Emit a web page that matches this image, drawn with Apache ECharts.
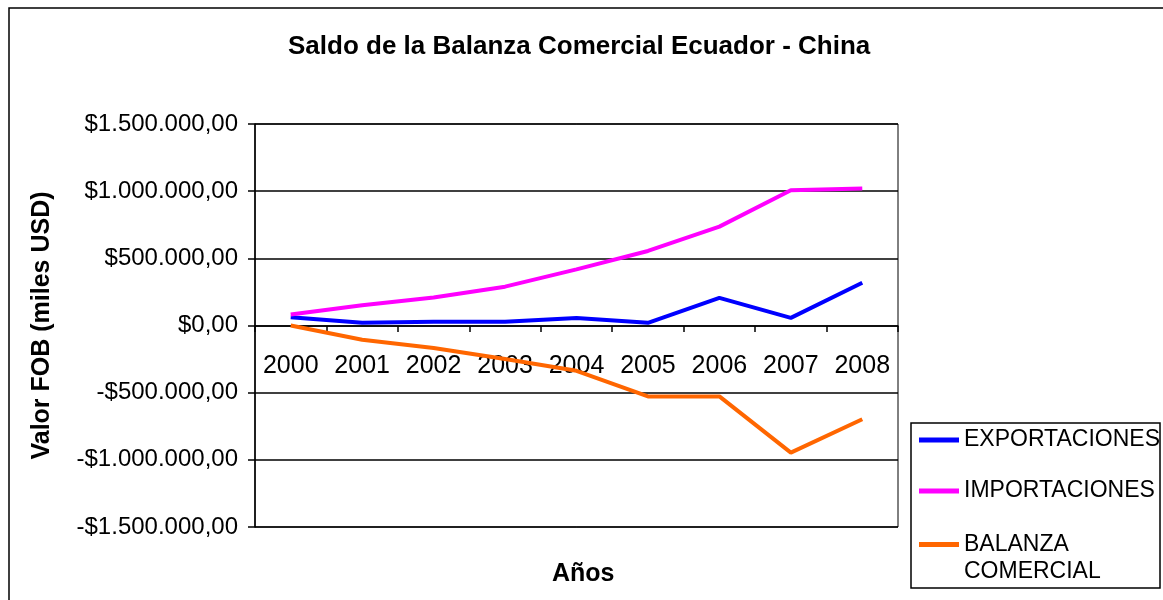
<!DOCTYPE html>
<html>
<head>
<meta charset="utf-8">
<script src="https://cdn.jsdelivr.net/npm/echarts@6/dist/echarts.min.js"></script>
<style>
  html, body { margin: 0; padding: 0; background: #fff; }
  #chart { width: 1163px; height: 600px; }
</style>
</head>
<body>
<div id="chart"></div>
<script>
// datos (miles USD)
const years = ['2000', '2001', '2002', '2003', '2004', '2005', '2006', '2007', '2008']
const exportaciones = [62000, 20000, 27000, 28000, 55000, 20000, 206000, 57000, 318000]
const importaciones = [82000, 151000, 209000, 289000, 418000, 555000, 736000, 1007000, 1020000]
const balanza = [0, -106000, -168000, -250000, -337000, -528000, -528000, -946000, -698000]

const font = 'Arial, "Liberation Sans", sans-serif'

// $1.500.000,00 style
const formatMoney = (v) => {
  const s = Math.abs(v).toFixed(0).replace(/\B(?=(\d{3})+(?!\d))/g, '.')
  return (v < 0 ? '-$' : '$') + s + ',00'
}

const chart = echarts.init(document.getElementById('chart'))

const option = {
  backgroundColor: '#fff',
  animation: false,
  textStyle: { fontFamily: font },
  title: [
    {
      text: 'Saldo de la Balanza Comercial Ecuador - China',
      left: 283,
      top: 29,
      textStyle: { fontFamily: font, fontSize: 26, fontWeight: 'bold', color: '#000' }
    },
    {
      text: 'Años',
      left: 547,
      top: 557,
      textStyle: { fontFamily: font, fontSize: 25, fontWeight: 'bold', color: '#000' }
    }
  ],
  graphic: [
    {
      type: 'rect',
      shape: { x: 9, y: 8, width: 1200, height: 700 },
      style: { fill: 'none', stroke: '#000', lineWidth: 1.5 },
      silent: true
    },
    {
      type: 'rect',
      shape: { x: 911, y: 423, width: 249, height: 165 },
      style: { fill: 'none', stroke: '#000', lineWidth: 1.5 },
      silent: true
    }
  ],
  legend: [
    {
      data: ['EXPORTACIONES', 'IMPORTACIONES'],
      orient: 'vertical',
      left: 919,
      top: 428,
      padding: 0,
      icon: 'rect',
      itemWidth: 40,
      itemHeight: 5,
      itemGap: 27,
      textStyle: { fontFamily: font, fontSize: 23, color: '#000', lineHeight: 24 }
    },
    {
      data: ['BALANZA COMERCIAL'],
      orient: 'vertical',
      left: 919,
      top: 504,
      padding: 0,
      icon: 'rect',
      itemWidth: 40,
      itemHeight: 5,
      // empty first line keeps the icon level with "BALANZA"
      formatter: () => ' \nBALANZA\nCOMERCIAL',
      textStyle: { fontFamily: font, fontSize: 23, color: '#000', lineHeight: 27 }
    }
  ],
  grid: {
    left: 255,
    right: 265,
    top: 124,
    bottom: 73,
    show: true,
    borderColor: '#000',
    borderWidth: 1
  },
  xAxis: {
    type: 'category',
    data: years,
    boundaryGap: true,
    position: 'bottom',
    offset: -201,
    axisLine: { onZero: false, lineStyle: { color: '#000', width: 1.5 } },
    axisTick: { show: true, length: 6, lineStyle: { color: '#000', width: 1.5 } },
    axisLabel: { interval: 0, margin: 28, fontFamily: font, fontSize: 25, color: '#000' },
    splitLine: { show: false }
  },
  yAxis: {
    type: 'value',
    min: -1500000,
    max: 1500000,
    interval: 500000,
    name: 'Valor FOB (miles USD)',
    nameLocation: 'middle',
    nameGap: 200,
    nameTextStyle: { fontFamily: font, fontSize: 25, fontWeight: 'bold', color: '#000' },
    axisLine: { show: true, lineStyle: { color: '#000', width: 1.5 } },
    axisTick: { show: true, length: 7, lineStyle: { color: '#000', width: 1.5 } },
    axisLabel: { margin: 17, fontFamily: font, fontSize: 24, color: '#000', formatter: formatMoney },
    splitLine: { show: true, lineStyle: { color: '#000', width: 1.5 } }
  },
  series: [
    {
      name: 'EXPORTACIONES',
      type: 'line',
      data: exportaciones,
      symbol: 'none',
      color: '#0000FF',
      lineStyle: { width: 4, color: '#0000FF' }
    },
    {
      name: 'IMPORTACIONES',
      type: 'line',
      data: importaciones,
      symbol: 'none',
      color: '#FF00FF',
      lineStyle: { width: 4, color: '#FF00FF' }
    },
    {
      name: 'BALANZA COMERCIAL',
      type: 'line',
      data: balanza,
      symbol: 'none',
      color: '#FF6600',
      lineStyle: { width: 4, color: '#FF6600' }
    }
  ]
}

chart.setOption(option)
</script>
</body>
</html>
